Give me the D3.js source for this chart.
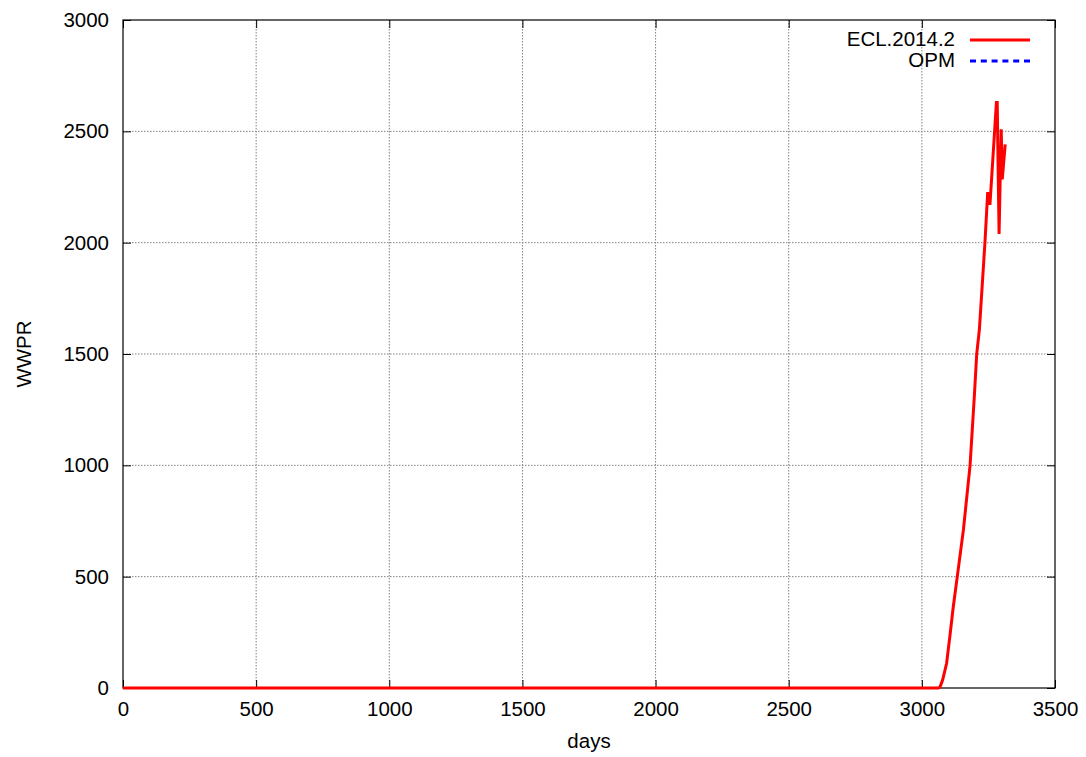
<!DOCTYPE html>
<html>
<head>
<meta charset="utf-8">
<script src="https://cdn.jsdelivr.net/npm/d3@7"></script>
<style>
  body { margin: 0; background: #fff; }
  text { font-family: "Liberation Sans", Arial, sans-serif; fill: #000; }
</style>
</head>
<body>
<svg id="chart" width="1086" height="757"></svg>
<script>
// data
const eclDays = [0, 3062, 3068, 3078, 3093, 3105, 3118, 3133, 3156, 3181, 3197, 3206, 3216, 3237,
                 3247, 3251, 3252, 3256, 3280, 3283, 3290, 3298, 3302, 3313];
const eclWwpr = [0, 0, 4, 36, 111, 230, 365, 500, 710, 1000, 1308, 1500, 1610, 2001,
                 2221, 2221, 2176, 2176, 2629, 2629, 2039, 2509, 2284, 2441];
const opmDays = [];
const opmWwpr = [];

const xTicks = [0, 500, 1000, 1500, 2000, 2500, 3000, 3500];
const yTicks = [0, 500, 1000, 1500, 2000, 2500, 3000];

const seriesNames = ["ECL.2014.2", "OPM"];
const seriesColors = ["#ff0000", "#0000ff"];

const svg = d3.select("#chart");
const plotLeft = 123, plotRight = 1055, plotTop = 20, plotBottom = 688;
const fontSize = "20.5px";

const x = d3.scaleLinear().domain([0, 3500]).range([plotLeft, plotRight]);
const y = d3.scaleLinear().domain([0, 3000]).range([plotBottom, plotTop]);

// grid
const grid = svg.append("g")
    .attr("stroke", "#808080")
    .attr("stroke-width", 1)
    .attr("stroke-dasharray", "1.5,1.5");
grid.selectAll(".gx").data(xTicks.slice(1, -1)).join("line")
    .attr("x1", d => x(d)).attr("x2", d => x(d))
    .attr("y1", plotTop).attr("y2", plotBottom);
grid.selectAll(".gy").data(yTicks.slice(1, -1)).join("line")
    .attr("x1", plotLeft).attr("x2", plotRight)
    .attr("y1", d => y(d)).attr("y2", d => y(d));

// axes with inward ticks, mirrored
const tickLen = 8;
const xAxis = d3.axisBottom(x).tickValues(xTicks).tickSize(-tickLen).tickPadding(13).tickFormat(d3.format("d"));
const yAxis = d3.axisLeft(y).tickValues(yTicks).tickSize(-tickLen).tickPadding(14).tickFormat(d3.format("d"));

svg.append("g").attr("transform", `translate(0,${plotBottom})`).call(xAxis);
svg.append("g").attr("transform", `translate(${plotLeft},0)`).call(yAxis);
svg.append("g").attr("transform", `translate(0,${plotTop})`)
    .call(d3.axisTop(x).tickValues(xTicks).tickSize(-tickLen).tickFormat(""));
svg.append("g").attr("transform", `translate(${plotRight},0)`)
    .call(d3.axisRight(y).tickValues(yTicks).tickSize(-tickLen).tickFormat(""));

svg.selectAll(".domain").remove();
svg.selectAll(".tick line").attr("stroke", "#000").attr("stroke-width", 1);
svg.selectAll(".tick text").style("font-size", fontSize).attr("fill", "#000");

svg.append("rect")
    .attr("x", plotLeft).attr("y", plotTop)
    .attr("width", plotRight - plotLeft).attr("height", plotBottom - plotTop)
    .attr("fill", "none").attr("stroke", "#000").attr("stroke-width", 1.2);

// axis titles
svg.append("text")
    .attr("x", (plotLeft + plotRight) / 2).attr("y", 748)
    .attr("text-anchor", "middle").style("font-size", fontSize)
    .text("days");
svg.append("text")
    .attr("transform", `translate(31,${(plotTop + plotBottom) / 2}) rotate(-90)`)
    .attr("text-anchor", "middle").style("font-size", fontSize)
    .text("WWPR");

// lines
const line = d3.line().x(d => x(d[0])).y(d => y(d[1]));
svg.append("path")
    .datum(d3.zip(eclDays, eclWwpr))
    .attr("fill", "none").attr("stroke", seriesColors[0])
    .attr("stroke-width", 3).attr("stroke-linejoin", "miter")
    .attr("d", line);
if (opmDays.length) {
  svg.append("path")
      .datum(d3.zip(opmDays, opmWwpr))
      .attr("fill", "none").attr("stroke", seriesColors[1])
      .attr("stroke-width", 3).attr("stroke-dasharray", "6,4")
      .attr("d", line);
}

// legend
const legend = svg.append("g");
seriesNames.forEach((name, i) => {
  const ly = 40 + i * 21;
  legend.append("text")
      .attr("x", 955).attr("y", ly + 6)
      .attr("text-anchor", "end").style("font-size", fontSize)
      .text(name);
  legend.append("line")
      .attr("x1", 970).attr("x2", 1030).attr("y1", ly).attr("y2", ly)
      .attr("stroke", seriesColors[i]).attr("stroke-width", 3)
      .attr("stroke-dasharray", i === 1 ? "6,4.8" : null);
});
</script>
</body>
</html>
